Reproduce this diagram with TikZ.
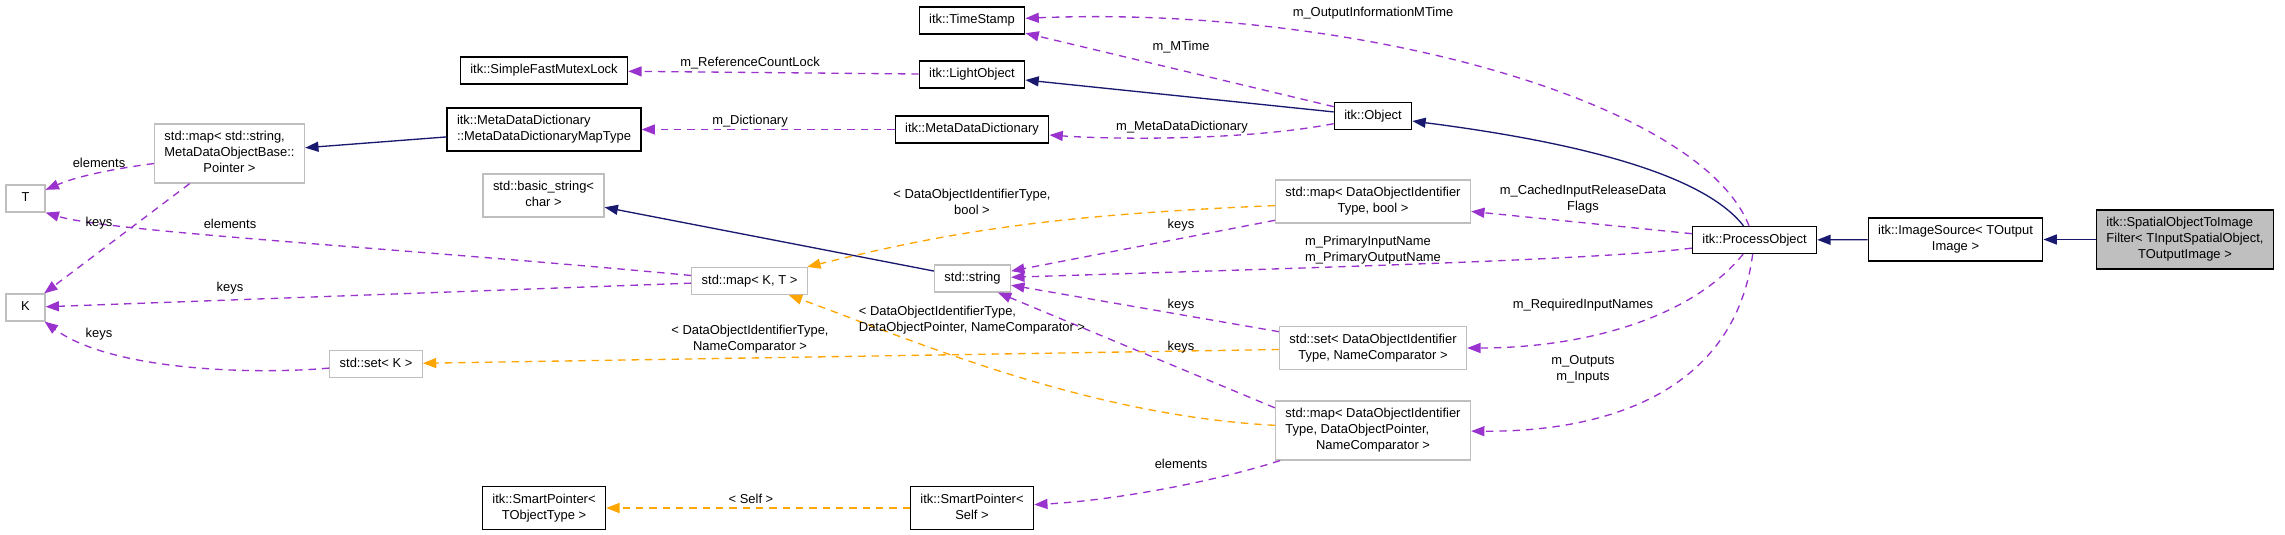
\documentclass[tikz,border=0pt]{standalone}
\usepackage{fontspec}
\setmainfont{Liberation Sans}
\usetikzlibrary{arrows.meta}

\definecolor{inheritblue}{HTML}{191970}
\definecolor{memberpurple}{HTML}{9A32CD}
\definecolor{tmplorange}{HTML}{FFA500}
\definecolor{boxgray}{HTML}{BFBFBF}

\newcommand{\ctext}[1]{\begin{tabular}{@{}c@{}}#1\end{tabular}}
\newcommand{\ltext}[2]{\begin{tabular}{@{}l@{}}#1\\\multicolumn{1}{@{}c@{}}{#2}\end{tabular}}

\tikzset{
  klass/.style={draw=black, line width=0.9pt, fill=white, inner xsep=7.5pt, inner ysep=4.1pt,
    minimum height=20.25pt, font=\fontsize{9.7}{12}\selectfont},
  extern/.style={klass, draw=boxgray},
  current/.style={klass, fill=boxgray},
  elabel/.style={inner sep=0pt, font=\fontsize{9.7}{12}\selectfont},
  inherit/.style={draw=inheritblue, line width=1pt, -{Triangle[length=10pt,width=7.5pt]}},
  member/.style={draw=memberpurple, line width=1pt, dash pattern=on 5.5pt off 4.5pt,
    -{Triangle[length=10pt,width=7.5pt]}},
  tmpl/.style={member, draw=tmplorange},
}

\begin{document}
\begin{tikzpicture}[x=0.75pt, y=-0.75pt]
  \useasboundingbox (0,0) rectangle (2285,535);

  % Define nodes
  \node[klass] (timestamp) at (972,20.5) {\ctext{itk::TimeStamp}};
  \node[klass] (mutex) at (544,70.5) {\ctext{itk::SimpleFastMutexLock}};
  \node[klass] (lightobj) at (972,74.5) {\ctext{itk::LightObject}};
  \node[klass] (mddmap) at (544,129.5) {\ltext{itk::MetaDataDictionary}{::MetaDataDictionaryMapType}};
  \node[klass] (mdd) at (972,129.5) {\ctext{itk::MetaDataDictionary}};
  \node[klass] (object) at (1373,116) {\ctext{itk::Object}};
  %--
  \node[extern] (strmap) at (229.5,153.5) {\ltext{std::map< std::string,\\MetaDataObjectBase::}{Pointer >}};
  \node[extern, minimum width=29.25pt] (T) at (25.5,198.5) {\ctext{T}};
  \node[extern, minimum width=29.25pt] (K) at (25.5,307.5) {\ctext{K}};
  \node[extern] (basicstr) at (543.5,195.5) {\ltext{std::basic\_string<}{char >}};
  \node[extern] (mapKT) at (749.5,281) {\ctext{std::map< K, T >}};
  \node[extern] (stdstring) at (972.5,278.5) {\ctext{std::string}};
  \node[extern] (setK) at (376,364) {\ctext{std::set< K >}};
  \node[extern] (mapbool) at (1373,201.5) {\ltext{std::map< DataObjectIdentifier}{Type, bool >}};
  \node[extern] (setNC) at (1373,348) {\ltext{std::set< DataObjectIdentifier}{Type, NameComparator >}};
  \node[extern] (mapDOP) at (1373,430.5) {\ltext{std::map< DataObjectIdentifier\\Type, DataObjectPointer,}{NameComparator >}};
  %--
  \node[klass] (spTObj) at (544,508) {\ltext{itk::SmartPointer<}{TObjectType >}};
  \node[klass] (spSelf) at (972,508) {\ltext{itk::SmartPointer<}{Self >}};
  \node[klass] (procobj) at (1754.5,240) {\ctext{itk::ProcessObject}};
  \node[klass] (imgsrc) at (1955.5,239.5) {\ltext{itk::ImageSource< TOutput}{Image >}};
  \node[current] (spatial) at (2185,239.5) {\ltext{itk::SpatialObjectToImage\\Filter< TInputSpatialObject,}{TOutputImage >}};

  % Connect the nodes
  \draw[inherit] (spatial) -- (imgsrc);
  \draw[inherit] (imgsrc) -- (procobj);
  \draw[inherit] (procobj) .. controls (1700,170) and (1560,140) .. (object);
  \draw[inherit] (object) -- (lightobj);
  \draw[inherit] (mddmap) -- (strmap);
  \draw[inherit] (stdstring) -- (basicstr);

  \draw[member] (lightobj) -- (mutex);
  \draw[member] (object) -- (timestamp);
  \draw[member] (procobj) .. controls (1700,100) and (1350,5) .. (timestamp);
  \draw[member] (object) .. controls (1250,140) and (1120,140) .. (mdd);
  \draw[member] (mdd) -- (mddmap);
  \draw[member] (strmap) .. controls (120,168) and (80,175) .. (T);
  \draw[member] (strmap) -- (K);
  \draw[member] (mapKT) .. controls (400,248) and (110,232) .. (T.south east);
  \draw[member] (mapKT) -- (K);
  \draw[member] (setK) .. controls (250,375) and (110,370) .. (K);
  \draw[member] (mapbool) -- (stdstring);
  \draw[member] (procobj) -- (mapbool);
  \draw[member] (procobj) .. controls (1600,260) and (1300,268) .. (stdstring);
  \draw[member] (setNC) -- (stdstring);
  \draw[member] (procobj) .. controls (1690,320) and (1580,348) .. (setNC);
  \draw[member] (procobj) .. controls (1735,390) and (1610,432) .. (mapDOP);
  \draw[member] (mapDOP.167) -- (stdstring.-29);
  \draw[member] (mapDOP) .. controls (1220,480) and (1120,500) .. (spSelf);

  \draw[tmpl] (mapbool) .. controls (1050,215) and (950,232) .. (mapKT);
  \draw[tmpl] (setNC) -- (setK);
  \draw[tmpl] (mapDOP) .. controls (1080,415) and (900,335) .. (mapKT);
  \draw[tmpl] (spSelf) -- (spTObj);

  % Edge labels
  \node[elabel] (lRefLock) at (750,63) {m\_ReferenceCountLock};
  \node[elabel] (lOutMTime) at (1373,13) {m\_OutputInformationMTime};
  \node[elabel] (lMTime) at (1181,47) {m\_MTime};
  \node[elabel] (lDict) at (750,121) {m\_Dictionary};
  \node[elabel] (lMDD) at (1182,127) {m\_MetaDataDictionary};
  \node[elabel] (lStrElem) at (99,163) {elements};
  \node[elabel] (lStrKeys) at (99,223) {keys};
  \node[elabel] (lKTElem) at (230,224) {elements};
  \node[elabel] (lKTKeys) at (230,288) {keys};
  \node[elabel] (lSetKKeys) at (99,334) {keys};
  \node[elabel] (lBool) at (972,203.5) {\ltext{< DataObjectIdentifierType,}{bool >}};
  \node[elabel] (lCached) at (1583,199.5) {\ltext{m\_CachedInputReleaseData}{Flags}};
  \node[elabel] (lBoolKeys) at (1181,225) {keys};
  \node[elabel] (lPrimary) at (1373,250.5) {\ltext{m\_PrimaryInputName}{m\_PrimaryOutputName}};
  \node[elabel] (lSetKeys) at (1181,305) {keys};
  \node[elabel] (lRequired) at (1583,305) {m\_RequiredInputNames};
  \node[elabel] (lDOP) at (972,320) {\ltext{< DataObjectIdentifierType,}{DataObjectPointer, NameComparator >}};
  \node[elabel] (lNC) at (750,339.5) {\ltext{< DataObjectIdentifierType,}{NameComparator >}};
  \node[elabel] (lDOPKeys) at (1181,347) {keys};
  \node[elabel] (lInOut) at (1583,369) {\ltext{m\_Outputs}{m\_Inputs}};
  \node[elabel] (lDOPElem) at (1181,464) {elements};
  \node[elabel] (lSelf) at (751,499) {< Self >};
\end{tikzpicture}
\end{document}
